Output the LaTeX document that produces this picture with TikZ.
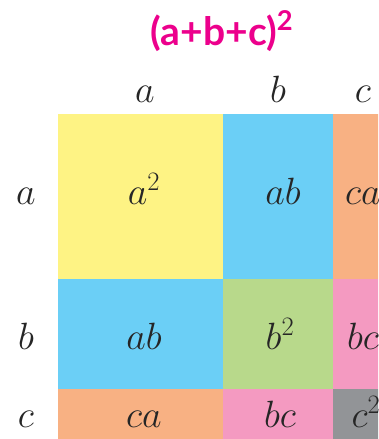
\RequirePackage{fix-cm}
\documentclass[tikz,border=0pt]{standalone}
\usepackage{fontspec}
\newfontfamily\titlefont{Lato}
\definecolor{cyel}{HTML}{FEF384}
\definecolor{cblu}{HTML}{6BCFF6}
\definecolor{corg}{HTML}{F8B183}
\definecolor{cgrn}{HTML}{B8D98B}
\definecolor{cpnk}{HTML}{F49AC1}
\definecolor{cgry}{HTML}{929497}
\definecolor{cmag}{HTML}{EC008C}
\begin{document}
\begin{tikzpicture}[x=1pt,y=-1pt,
  lbl/.style={anchor=base,inner sep=0pt,font=\fontsize{38}{42}\selectfont,text=black!85}]
\useasboundingbox (0,0) rectangle (378,439);
\clip (0,0) rectangle (378,439);
% cells
\fill[cyel] (58,114) rectangle (223,279);
\fill[cblu] (223,114) rectangle (333,279);
\fill[corg] (333,114) rectangle (400,279);
\fill[cblu] (58,279) rectangle (223,389);
\fill[cgrn] (223,279) rectangle (333,389);
\fill[cpnk] (333,279) rectangle (400,389);
\fill[corg] (58,389) rectangle (223,450);
\fill[cpnk] (223,389) rectangle (333,450);
\fill[cgry] (333,389) rectangle (400,450);
% title
\node[anchor=base,inner sep=0pt,text=cmag,font=\titlefont\bfseries\fontsize{39}{44}\selectfont] (title) at (222,45) {(a+b+c)\textsuperscript{2}};
% column labels
\node[lbl] (ca) at (145,102) {$a$};
\node[lbl] (cb) at (278,102) {$b$};
\node[lbl] (cc) at (363,102) {$c$};
% row labels
\node[lbl] (ra) at (26,204) {$a$};
\node[lbl] (rb) at (26,349) {$b$};
\node[lbl] (rc) at (26,427) {$c$};
% cell texts
\node[lbl] (aa) at (144,204) {$a^2$};
\node[lbl] (ab1) at (283,204) {$ab$};
\node[lbl] (ca1) at (363,204) {$ca$};
\node[lbl] (ab2) at (144,349) {$ab$};
\node[lbl] (bb) at (280,349) {$b^2$};
\node[lbl] (bc1) at (363,349) {$bc$};
\node[lbl] (ca2) at (144,427) {$ca$};
\node[lbl] (bc2) at (280,427) {$bc$};
\node[lbl] (cc2) at (366,427) {$c^2$};
\end{tikzpicture}
\end{document}
